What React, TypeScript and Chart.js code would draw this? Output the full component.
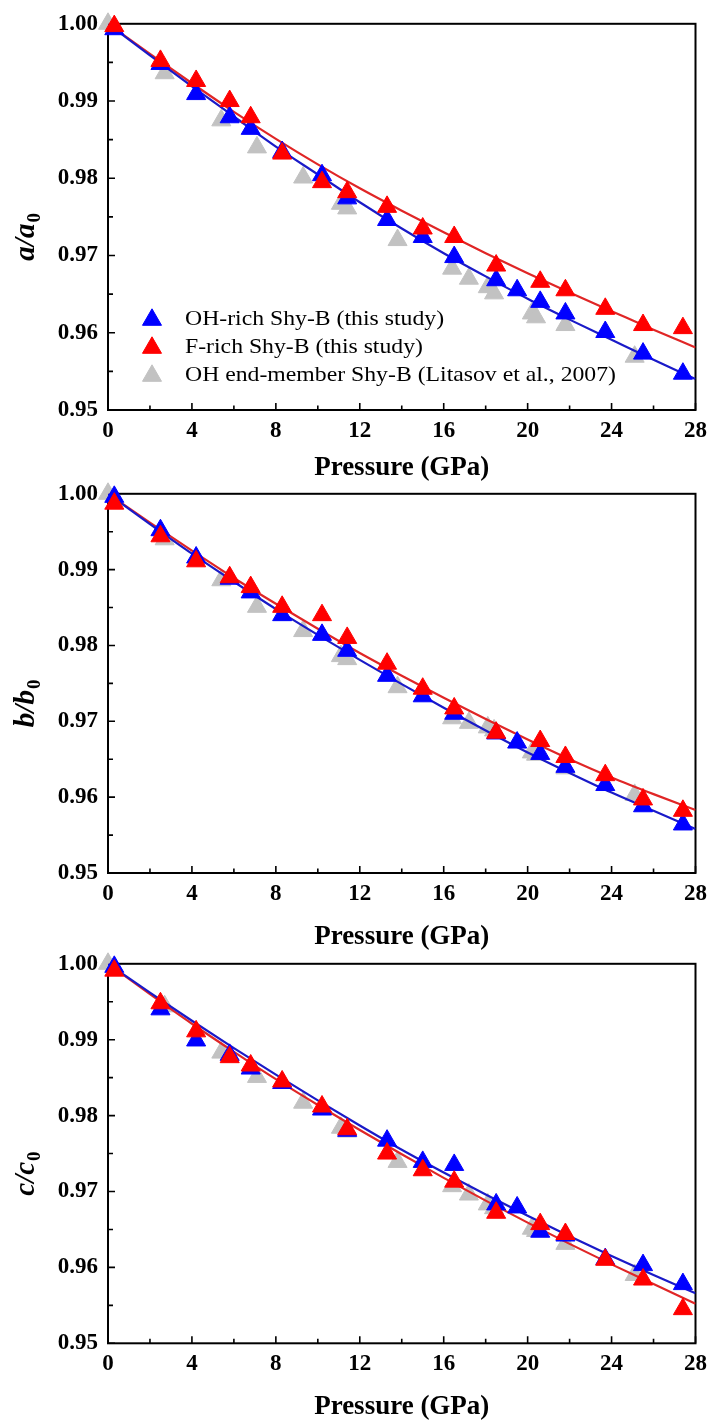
import React, { useEffect, useRef } from "react";
import { Chart, registerables } from "chart.js";

Chart.register(...registerables);

const SERIF = '"Liberation Serif", "Times New Roman", Times, serif';

// ---- labels ----
const SERIES_NAMES = [
  "OH-rich Shy-B (this study)",
  "F-rich Shy-B (this study)",
  "OH end-member Shy-B (Litasov et al., 2007)",
];
const X_TITLE = "Pressure (GPa)";
const X_MAJOR = [0, 4, 8, 12, 16, 20, 24, 28];
const X_MINOR = [2, 6, 10, 14, 18, 22, 26];
const Y_MAJOR = [0.95, 0.96, 0.97, 0.98, 0.99, 1.0];
const Y_MINOR = [0.955, 0.965, 0.975, 0.985, 0.995];

// ---- pressures (GPa) ----
const P_OH = [0.3, 2.5, 4.2, 5.8, 6.8, 8.3, 10.2, 11.4, 13.3, 15.0, 16.5, 18.5, 19.5, 20.6, 21.8, 23.7, 25.5, 27.4];
const P_F = [0.3, 2.5, 4.2, 5.8, 6.8, 8.3, 10.2, 11.4, 13.3, 15.0, 16.5, 18.5, 20.6, 21.8, 23.7, 25.5, 27.4];
const P_LIT = [0.0, 2.7, 5.4, 7.1, 9.3, 11.1, 11.4, 13.8, 16.4, 17.2, 18.1, 18.4, 20.2, 20.4, 21.8, 25.1];
const P_FIT = [0, 2, 4, 6, 8, 10, 12, 14, 16, 18, 20, 22, 24, 26, 28];

// ---- a/a0 ----
const A_OH = [0.9993, 0.9948, 0.9909, 0.9879, 0.9864, 0.9834, 0.9804, 0.9774, 0.9746, 0.9724, 0.9698, 0.9668, 0.9655, 0.964, 0.9625, 0.9601, 0.9573, 0.9547];
const A_F = [0.9997, 0.9952, 0.9926, 0.99, 0.9879, 0.9832, 0.9795, 0.9782, 0.9763, 0.9735, 0.9724, 0.9687, 0.9666, 0.9655, 0.9631, 0.961, 0.9606];
const A_LIT = [1.0, 0.9936, 0.9875, 0.984, 0.9801, 0.9767, 0.9761, 0.972, 0.9683, 0.967, 0.9659, 0.9651, 0.9625, 0.962, 0.961, 0.9569];
const A_FIT_OH = [1.0, 0.9959, 0.9919, 0.988, 0.9841, 0.9805, 0.9769, 0.9735, 0.9703, 0.9673, 0.9644, 0.9617, 0.9591, 0.9565, 0.954];
const A_FIT_F = [1.0, 0.9961, 0.9923, 0.9886, 0.9851, 0.9818, 0.9787, 0.9758, 0.973, 0.9703, 0.9677, 0.9652, 0.9628, 0.9604, 0.9581];

// ---- b/b0 ----
const B_OH = [0.9996, 0.9952, 0.9916, 0.9888, 0.987, 0.984, 0.9814, 0.9793, 0.976, 0.9733, 0.971, 0.9684, 0.9672, 0.9657, 0.964, 0.9616, 0.9588, 0.9564];
const B_F = [0.9987, 0.9944, 0.9911, 0.989, 0.9877, 0.9851, 0.984, 0.981, 0.9776, 0.9743, 0.9717, 0.9685, 0.9674, 0.9653, 0.9629, 0.9597, 0.9582];
const B_LIT = [1.0, 0.994, 0.9886, 0.9851, 0.9819, 0.9786, 0.9782, 0.9745, 0.9704, 0.9698, 0.9692, 0.9688, 0.9659, 0.9656, 0.9638, 0.9603];
const B_FIT_OH = [1.0, 0.996, 0.9921, 0.9884, 0.9848, 0.9814, 0.9781, 0.9749, 0.9718, 0.9688, 0.9659, 0.9632, 0.9606, 0.9582, 0.9558];
const B_FIT_F = [1.0, 0.9962, 0.9925, 0.9889, 0.9855, 0.9822, 0.979, 0.976, 0.9731, 0.9703, 0.9676, 0.965, 0.9626, 0.9604, 0.9583];

// ---- c/c0 ----
const C_OH = [0.9996, 0.994, 0.9899, 0.988, 0.9862, 0.9843, 0.9808, 0.978, 0.9767, 0.9739, 0.9735, 0.9683, 0.9679, 0.9647, 0.9642, 0.9611, 0.9603, 0.9578];
const C_F = [0.9991, 0.9948, 0.9911, 0.9877, 0.9866, 0.9845, 0.9812, 0.9782, 0.975, 0.9728, 0.9713, 0.9672, 0.9657, 0.9644, 0.961, 0.9584, 0.9545];
const C_LIT = [1.0, 0.9944, 0.9883, 0.9851, 0.9817, 0.9784, 0.9779, 0.9739, 0.9707, 0.9696, 0.9683, 0.9678, 0.9651, 0.9648, 0.9631, 0.959];
const C_FIT_OH = [1.0, 0.9962, 0.9925, 0.9889, 0.9854, 0.982, 0.9787, 0.9755, 0.9725, 0.9696, 0.9668, 0.9641, 0.9615, 0.959, 0.9566];
const C_FIT_F = [1.0, 0.996, 0.9921, 0.9884, 0.9848, 0.9814, 0.9781, 0.9749, 0.9718, 0.9688, 0.9659, 0.9631, 0.9604, 0.9578, 0.9552];

// ---- styles ----
const BLUE = "#0000ff";
const RED = "#ff0000";
const GRAY = "#c2c2c2";
const BLUE_LINE = "#1a1ac8";
const RED_LINE = "#e02626";
const MARKER_R = 11;

type Spec = {
  key: string;
  letter: string;
  oh: number[];
  f: number[];
  lit: number[];
  fitOH: number[];
  fitF: number[];
  top: number;
  height: number;
  padTop: number;
  xh: number;
  titlePb: number;
  legend: boolean;
};

const PANELS: Spec[] = [
  { key: "a", letter: "a", oh: A_OH, f: A_F, lit: A_LIT, fitOH: A_FIT_OH, fitF: A_FIT_F, top: 0, height: 490, padTop: 23, xh: 80, titlePb: 5.4, legend: true },
  { key: "b", letter: "b", oh: B_OH, f: B_F, lit: B_LIT, fitOH: B_FIT_OH, fitF: B_FIT_F, top: 470, height: 490, padTop: 16.5, xh: 87, titlePb: 6.4, legend: false },
  { key: "c", letter: "c", oh: C_OH, f: C_F, lit: C_LIT, fitOH: C_FIT_OH, fitF: C_FIT_F, top: 940, height: 483, padTop: 16.5, xh: 79.7, titlePb: 0, legend: false },
];

function triangle(ctx: CanvasRenderingContext2D, x: number, y: number, r: number, color: string) {
  const s = Math.sin((2 * Math.PI) / 3);
  ctx.beginPath();
  ctx.moveTo(x, y - r);
  ctx.lineTo(x + r * s, y + r * 0.5);
  ctx.lineTo(x - r * s, y + r * 0.5);
  ctx.closePath();
  ctx.fillStyle = color;
  ctx.strokeStyle = color;
  ctx.lineWidth = 1;
  ctx.fill();
  ctx.stroke();
}

const framePlugin = {
  id: "frame",
  beforeDatasetsDraw(chart: any) {
    const { ctx, chartArea: a, scales } = chart;
    const xs = scales.x;
    const ys = scales.y;
    ctx.save();
    ctx.strokeStyle = "#000";
    ctx.lineWidth = 2;
    ctx.strokeRect(a.left, a.top, a.right - a.left, a.bottom - a.top);
    ctx.lineWidth = 1.6;
    ctx.beginPath();
    X_MAJOR.forEach((v) => {
      const p = xs.getPixelForValue(v);
      ctx.moveTo(p, a.bottom);
      ctx.lineTo(p, a.bottom - 7);
    });
    X_MINOR.forEach((v) => {
      const p = xs.getPixelForValue(v);
      ctx.moveTo(p, a.bottom);
      ctx.lineTo(p, a.bottom - 4.5);
    });
    Y_MAJOR.forEach((v) => {
      const p = ys.getPixelForValue(v);
      ctx.moveTo(a.left, p);
      ctx.lineTo(a.left + 7, p);
    });
    Y_MINOR.forEach((v) => {
      const p = ys.getPixelForValue(v);
      ctx.moveTo(a.left, p);
      ctx.lineTo(a.left + 5, p);
    });
    ctx.stroke();
    ctx.restore();
  },
  afterDraw(chart: any, _args: any, opts: any) {
    const { ctx, chartArea: a } = chart;
    // y-axis title with subscript
    ctx.save();
    const cy = (a.top + a.bottom) / 2 + 20;
    ctx.translate(25, cy);
    ctx.rotate(-Math.PI / 2);
    ctx.fillStyle = "#000";
    ctx.textBaseline = "alphabetic";
    ctx.textAlign = "left";
    const mainFont = `italic bold 29px ${SERIF}`;
    const subFont = `bold 19px ${SERIF}`;
    const main = `${opts.letter}/${opts.letter}`;
    ctx.font = mainFont;
    const wMain = ctx.measureText(main).width;
    ctx.font = subFont;
    const wSub = ctx.measureText("0").width;
    const x0 = -(wMain + wSub + 1) / 2;
    ctx.font = mainFont;
    ctx.fillText(main, x0, 9);
    ctx.font = subFont;
    ctx.fillText("0", x0 + wMain + 1, 15);
    ctx.restore();

    if (opts.legend) {
      const items = [
        { name: SERIES_NAMES[0], color: BLUE },
        { name: SERIES_NAMES[1], color: RED },
        { name: SERIES_NAMES[2], color: GRAY },
      ];
      ctx.save();
      items.forEach((it, i) => {
        const y = a.top + 296 + i * 28;
        triangle(ctx, a.left + 44, y, MARKER_R, it.color);
        ctx.save();
        ctx.translate(a.left + 77, y);
        ctx.scale(1.13, 1);
        ctx.font = `21px ${SERIF}`;
        ctx.fillStyle = "#000";
        ctx.textBaseline = "middle";
        ctx.textAlign = "left";
        ctx.fillText(it.name, 0, 0);
        ctx.restore();
      });
      ctx.restore();
    }
  },
};

function buildConfig(spec: Spec): any {
  const pts = (xs: number[], ys: number[]) => xs.map((x, i) => ({ x, y: ys[i] }));
  const marker = (label: string, xs: number[], ys: number[], color: string, order: number) => ({
    type: "scatter",
    label,
    data: pts(xs, ys),
    pointStyle: "triangle",
    pointRadius: MARKER_R,
    pointHoverRadius: MARKER_R,
    backgroundColor: color,
    borderColor: color,
    borderWidth: 1,
    showLine: false,
    clip: false,
    order,
  });
  const fit = (label: string, xs: number[], ys: number[], color: string) => ({
    type: "line",
    label,
    data: pts(xs, ys),
    borderColor: color,
    backgroundColor: color,
    borderWidth: 2.2,
    pointRadius: 0,
    fill: false,
    cubicInterpolationMode: "monotone",
    order: 2,
  });
  const tickFont = { family: SERIF, size: 23, weight: "bold" };
  return {
    type: "scatter",
    data: {
      datasets: [
        marker(SERIES_NAMES[1], P_F, spec.f, RED, 0),
        marker(SERIES_NAMES[0], P_OH, spec.oh, BLUE, 1),
        fit("OH-rich fit", P_FIT, spec.fitOH, BLUE_LINE),
        fit("F-rich fit", P_FIT, spec.fitF, RED_LINE),
        marker(SERIES_NAMES[2], P_LIT, spec.lit, GRAY, 3),
      ],
    },
    options: {
      responsive: false,
      animation: false,
      devicePixelRatio: 1,
      events: [],
      layout: { padding: { top: spec.padTop, right: 15, left: 0, bottom: 0 } },
      plugins: {
        legend: { display: false },
        tooltip: { enabled: false },
        frame: { letter: spec.letter, legend: spec.legend },
      },
      scales: {
        x: {
          type: "linear",
          min: 0,
          max: 28,
          afterBuildTicks: (s: any) => {
            s.ticks = X_MAJOR.map((v) => ({ value: v }));
          },
          ticks: {
            autoSkip: false,
            maxRotation: 0,
            padding: 7,
            color: "#000",
            font: tickFont,
            callback: (v: any) => String(v),
          },
          grid: { display: false, drawTicks: false },
          border: { display: false },
          title: {
            display: true,
            text: X_TITLE,
            color: "#000",
            font: { family: SERIF, size: 27, weight: "bold" },
            padding: { top: 0, bottom: spec.titlePb },
          },
          afterFit: (s: any) => {
            s.height = spec.xh;
          },
        },
        y: {
          type: "linear",
          min: 0.95,
          max: 1.0,
          afterBuildTicks: (s: any) => {
            s.ticks = Y_MAJOR.map((v) => ({ value: v }));
          },
          ticks: {
            autoSkip: false,
            padding: 10,
            color: "#000",
            font: tickFont,
            callback: (v: any) => Number(v).toFixed(2),
          },
          grid: { display: false, drawTicks: false },
          border: { display: false },
          afterFit: (s: any) => {
            s.width = 108;
          },
        },
      },
    },
    plugins: [framePlugin],
  };
}

function Panel({ spec }: { spec: Spec }) {
  const ref = useRef<HTMLCanvasElement>(null);
  useEffect(() => {
    if (!ref.current) return;
    const chart = new Chart(ref.current, buildConfig(spec));
    return () => chart.destroy();
  }, [spec]);
  return (
    <canvas
      ref={ref}
      width={714}
      height={spec.height}
      style={{ position: "absolute", left: 0, top: spec.top, width: 714, height: spec.height, display: "block" }}
    />
  );
}

export default function App() {
  return (
    <div style={{ position: "absolute", left: 0, top: 0, width: 714, height: 1423, background: "#fff", overflow: "hidden" }}>
      {PANELS.map((p) => (
        <Panel key={p.key} spec={p} />
      ))}
    </div>
  );
}
